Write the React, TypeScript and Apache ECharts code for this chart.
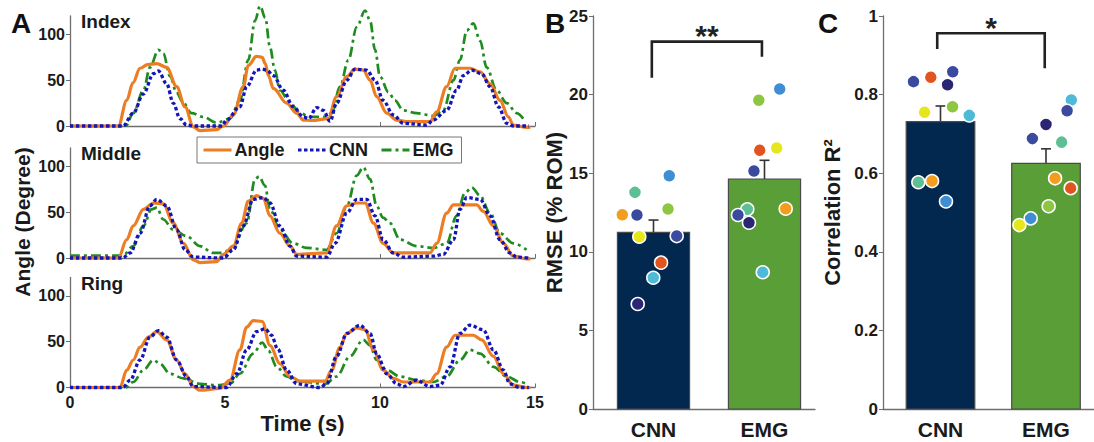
import React, { useEffect, useRef } from "react";
import * as echarts from "echarts";

const FONT = '"Liberation Sans", Arial, Helvetica, sans-serif';

// ---------- Panel A data: [time (s), angle (deg)] ----------
const indexAngle = [[0,0],[1.56,0],[1.83,28],[2.03,47],[2.26,63],[2.5,67],[2.8,68],[3.12,64],[3.44,43],[3.71,21],[3.98,-1],[4.19,-5],[4.73,-4],[4.95,0],[5.27,12],[5.59,43],[5.75,66],[6.02,76],[6.2,75],[6.3,68],[6.4,55],[6.56,41],[6.99,25],[7.31,14],[7.53,6.5],[7.8,6],[8.33,8],[8.6,32],[8.93,54],[9.19,62],[9.46,61],[9.68,50],[9.89,32],[10.22,14],[10.54,6.5],[10.86,4.7],[11.61,4.7],[11.83,15.5],[12.15,43],[12.42,63],[12.9,63],[13.23,59],[13.55,46],[13.87,28],[14.14,10],[14.3,1],[14.73,-1.5],[14.85,-1.5]];
const indexCnn = [[0,0],[1.71,0],[2.04,14],[2.37,35],[2.69,57],[2.85,60],[3.12,46],[3.33,25],[3.55,8],[3.76,1],[4.0,0],[4.9,0],[5.05,6.5],[5.48,21],[5.7,43],[6.02,61],[6.2,62],[6.34,61],[6.56,55],[6.88,39],[7.2,21],[7.53,10],[7.69,8],[7.96,20],[8.17,17],[8.39,5],[8.6,25],[8.93,50],[9.19,62],[9.57,61],[9.84,50],[10.1,28],[10.43,12],[10.75,3],[11.5,1],[11.72,6.5],[12.15,17],[12.47,39],[12.69,55],[12.96,61],[13.28,57],[13.55,43],[13.82,21],[14.09,3],[14.3,0],[14.8,0]];
const indexEmg = [[0,0],[1.8,0],[2.04,14],[2.37,39],[2.58,64],[2.85,83],[3.01,79],[3.23,54],[3.44,36],[3.66,25],[3.92,14],[4.3,10],[4.73,3.6],[5.16,8],[5.48,28],[5.75,72],[5.97,115],[6.13,131],[6.3,118],[6.45,86],[6.61,61],[6.77,39],[7.1,25],[7.42,14],[7.74,10],[8.23,10],[8.44,14],[8.71,43],[8.98,72],[9.25,108],[9.52,126],[9.68,115],[9.84,83],[10,54],[10.27,37],[10.48,28],[10.75,17],[11.18,14],[11.72,11],[12.04,17],[12.37,50],[12.58,72],[12.8,104],[13.01,112],[13.23,93],[13.44,64],[13.76,39],[14.09,25],[14.41,14],[14.62,8]];

const middleAngle = [[0,0],[1.56,0],[1.83,20],[2.04,35],[2.37,53],[2.69,60],[3.01,59],[3.33,38],[3.66,16],[3.98,-2],[4.19,-5],[4.73,-4],[4.95,4],[5.27,13],[5.54,38],[5.75,62],[6.02,68],[6.24,65],[6.45,46],[6.77,27],[7.1,13],[7.31,4],[8.28,5.5],[8.6,35],[8.93,57],[9.25,60],[9.52,60],[9.79,38],[10.1,16],[10.43,5.5],[11.61,5.5],[11.83,16],[12.15,49],[12.37,58],[13.12,58],[13.33,51],[13.66,35],[13.98,16],[14.3,2],[14.73,-1],[14.85,-1]];
const middleCnn = [[0,0],[1.7,0],[1.94,5.5],[2.26,27],[2.58,57],[2.8,64],[3.12,57],[3.44,31],[3.71,9],[3.98,1],[4.95,0],[5.27,9],[5.59,35],[5.91,64],[6.24,66],[6.45,60],[6.77,35],[7.1,13],[7.31,2],[8.28,1],[8.55,16],[8.93,49],[9.25,64],[9.57,64],[9.84,46],[10.1,20],[10.43,5.5],[10.75,1],[11.72,2],[12.04,4],[12.37,20],[12.58,53],[12.8,66],[13.23,64],[13.55,46],[13.87,20],[14.19,5.5],[14.41,1],[14.8,0]];
const middleEmg = [[0,2.5],[1.7,2.5],[2.04,13],[2.37,35],[2.63,53],[2.8,55],[3.01,42],[3.33,31],[3.76,24],[4.19,13],[4.62,5.5],[4.95,5.5],[5.27,13],[5.7,38],[5.97,86],[6.1,89],[6.29,79],[6.45,53],[6.77,31],[7.2,16],[7.63,11],[8.28,9],[8.6,27],[8.93,57],[9.25,90],[9.46,99],[9.68,86],[9.89,57],[10.1,44],[10.32,38],[10.65,20],[11.18,13],[11.72,11],[12.15,16],[12.47,46],[12.74,71],[12.96,77],[13.23,68],[13.55,49],[13.87,27],[14.3,16],[14.73,9]];

const ringAngle = [[0,0],[1.61,0],[1.83,19],[2.04,30],[2.26,44],[2.53,55],[2.8,61],[3.12,52],[3.44,30],[3.71,15],[3.98,1],[4.19,-3],[4.84,-1],[5.16,8],[5.48,41],[5.7,66],[5.91,73],[6.2,72],[6.45,46],[6.77,26],[7.1,12],[7.42,7],[8.23,7],[8.44,19],[8.71,44],[8.93,59],[9.25,65],[9.52,63],[9.79,41],[10.1,19],[10.43,10],[10.75,6],[11.61,6],[11.83,15],[12.15,44],[12.42,57],[13.01,57],[13.28,52],[13.66,34],[13.98,15],[14.3,2.5],[14.73,0],[14.85,0]];
const ringCnn = [[0,0],[1.7,0],[1.94,8],[2.26,30],[2.58,55],[2.85,62],[3.12,55],[3.44,30],[3.76,12],[3.98,1],[5.05,0],[5.38,15],[5.7,41],[6.02,61],[6.3,64],[6.5,57],[6.7,42],[6.99,19],[7.31,4],[8.06,0],[8.28,4],[8.6,34],[8.93,59],[9.35,68],[9.68,59],[9.89,37],[10.22,15],[10.54,4],[10.75,1],[11.18,8],[11.61,1],[11.94,2.5],[12.26,22.5],[12.58,59],[12.9,68],[13.33,63],[13.66,41],[13.98,19],[14.19,4],[14.5,0],[14.8,0]];
const ringEmg = [[0,0],[1.8,0],[2.04,6],[2.37,19],[2.69,30],[2.9,26],[3.23,15],[3.66,10],[4.19,4],[4.73,2.5],[5.16,4],[5.48,15],[5.91,37],[6.2,49],[6.4,40],[6.67,22.5],[6.99,12],[7.31,7],[8.23,4],[8.6,12],[9.03,34],[9.46,52],[9.68,46],[9.89,30],[10.22,19],[10.65,12],[11.18,8],[11.72,6],[12.15,12],[12.58,30],[12.9,41],[13.23,37],[13.66,22.5],[14.09,12],[14.52,6],[14.73,4]];

const fingerTitles = ["Index", "Middle", "Ring"];
const seriesNames = ["Angle", "CNN", "EMG"];
const timeTicks = [0, 5, 10, 15];
const angleTicks = [0, 50, 100];

// ---------- Panels B & C ----------
const groups = ["CNN", "EMG"];
const groupX = [1, 2];
const rmseMean = [11.24, 14.63];
const rmseSem = [0.78, 1.19];
const corrMean = [0.731, 0.625];
const corrSem = [0.04, 0.037];

const C_BLUE = "#3F8ED3", C_TEAL = "#5DBF93", C_YGREEN = "#8DC640", C_ORANGE = "#F29D1D",
  C_INDIGO = "#3A4A9F", C_YELLOW = "#E6E61C", C_RED = "#E1531F", C_LBLUE = "#4DBAD8", C_NAVY = "#2A2575";

const rmseCnnPts = [[1.142,14.84],[0.833,13.78],[1.131,12.72],[0.719,12.36],[0.851,12.34],[0.872,10.96],[1.209,11.0],[1.068,9.31],[0.998,8.35],[0.858,6.68]];
const rmseCnnColors = [C_BLUE, C_TEAL, C_YGREEN, C_ORANGE, C_INDIGO, C_YELLOW, C_INDIGO, C_RED, C_LBLUE, C_NAVY];
const rmseEmgPts = [[2.137,20.36],[1.948,19.64],[1.957,16.46],[2.11,16.6],[1.905,15.14],[1.845,12.7],[2.191,12.74],[1.761,12.34],[1.86,11.85],[1.984,8.7]];
const rmseEmgColors = [C_BLUE, C_YGREEN, C_RED, C_YELLOW, C_INDIGO, C_TEAL, C_ORANGE, C_INDIGO, C_NAVY, C_LBLUE];

const corrCnnPts = [[0.744,0.833],[0.908,0.844],[1.116,0.858],[1.067,0.825],[0.849,0.755],[1.114,0.769],[1.273,0.747],[0.79,0.577],[0.92,0.58],[1.052,0.528]];
const corrCnnColors = [C_INDIGO, C_RED, C_INDIGO, C_NAVY, C_YELLOW, C_YGREEN, C_LBLUE, C_TEAL, C_ORANGE, C_BLUE];
const corrEmgPts = [[2.24,0.786],[2.2,0.759],[2.0,0.724],[1.871,0.688],[2.148,0.679],[2.086,0.587],[2.234,0.562],[2.025,0.516],[1.855,0.485],[1.748,0.468]];
const corrEmgColors = [C_LBLUE, C_INDIGO, C_NAVY, C_INDIGO, C_TEAL, C_ORANGE, C_RED, C_YGREEN, C_BLUE, C_YELLOW];

// bracket: [xLeft, xRight, yLeftEnd, yRightEnd, yTop]
const rmseBracket = [0.985, 1.977, 21.07, 22.4, 23.37];
const rmseSig = "**";
const corrBracket = [0.969, 1.988, 0.916, 0.867, 0.956];
const corrSig = "*";

const barColors = ["#03284F", "#5A9E38"];
const lineColors = ["#ED7D22", "#1414B8", "#1E8C1E"];
const AXIS = "#6E6E6E";
const TXT = "#1A1A1A";

export default function App() {
  const ref = useRef<HTMLDivElement>(null);
  useEffect(() => {
    if (!ref.current) return;
    const chart = echarts.init(ref.current, null, { renderer: "svg" });

    const aTops = [16, 148, 277.5];
    const aData = [
      [indexAngle, indexCnn, indexEmg],
      [middleAngle, middleCnn, middleEmg],
      [ringAngle, ringCnn, ringEmg],
    ];
    const lineStyles: any[] = [
      { color: lineColors[0], width: 3.2, type: "solid" },
      { color: lineColors[1], width: 3.3, type: [3.5, 2.5] },
      { color: lineColors[2], width: 2.7, type: [10, 4, 3, 4] },
    ];

    const grids: any[] = aTops.map((t) => ({ left: 70, top: t, width: 465, height: 110 }));
    grids.push({ left: 593, top: 16, width: 222, height: 393 });
    grids.push({ left: 883, top: 16, width: 217, height: 393 });

    const labelStyle = { fontFamily: FONT, fontWeight: "bold", color: TXT };

    const xAxes: any[] = aTops.map((_, i) => ({
      gridIndex: i, type: "value", min: 0, max: 15,
      axisLine: { onZero: true, lineStyle: { color: AXIS, width: 1.3 } },
      axisTick: { inside: true, length: 4, customValues: timeTicks, lineStyle: { color: AXIS } },
      axisLabel: { show: i === 2, customValues: timeTicks, fontSize: 16, margin: 7, ...labelStyle },
      splitLine: { show: false },
      ...(i === 2 ? { name: "Time (s)", nameLocation: "middle", nameGap: 25, nameTextStyle: { fontSize: 22, ...labelStyle } } : {}),
    }));
    const groupAxis = (gi: number) => ({
      gridIndex: gi, type: "value", min: 0.455, max: 2.455,
      axisLine: { lineStyle: { color: AXIS, width: 1.3 } },
      axisTick: { show: false },
      axisLabel: { customValues: groupX, formatter: (v: number) => groups[Math.round(v) - 1] || "", fontSize: 21, margin: 10, ...labelStyle },
      splitLine: { show: false },
    });
    xAxes.push(groupAxis(3), groupAxis(4));

    const yAxes: any[] = aTops.map((_, i) => ({
      gridIndex: i, type: "value", min: 0, max: 120,
      axisLine: { show: true, lineStyle: { color: AXIS, width: 1.3 } },
      axisTick: { show: true, length: 4, customValues: angleTicks, lineStyle: { color: AXIS } },
      axisLabel: { customValues: angleTicks, fontSize: 16, margin: 5, ...labelStyle },
      splitLine: { show: false },
    }));
    yAxes.push({
      gridIndex: 3, type: "value", min: 0, max: 25, interval: 5,
      axisLine: { show: true, lineStyle: { color: AXIS, width: 1.3 } },
      axisTick: { show: true, length: 4, lineStyle: { color: AXIS } },
      axisLabel: { fontSize: 17, margin: 5, ...labelStyle },
      splitLine: { show: false },
      name: "RMSE (% ROM)", nameLocation: "middle", nameGap: 28,
      nameTextStyle: { fontSize: 22, ...labelStyle },
    });
    yAxes.push({
      gridIndex: 4, type: "value", min: 0, max: 1, interval: 0.2,
      axisLine: { show: true, lineStyle: { color: AXIS, width: 1.3 } },
      axisTick: { show: true, length: 4, lineStyle: { color: AXIS } },
      axisLabel: { fontSize: 17, margin: 5, ...labelStyle, formatter: (v: number) => (Math.abs(v) < 1e-9 ? "0" : Math.abs(v - 1) < 1e-9 ? "1" : v.toFixed(1)) },
      splitLine: { show: false },
      name: "Correlation R²", nameLocation: "middle", nameGap: 40,
      nameTextStyle: { fontSize: 22, ...labelStyle },
    });

    const series: any[] = [];
    aData.forEach((set, gi) => {
      set.forEach((d, si) => {
        series.push({
          type: "line", name: seriesNames[si], xAxisIndex: gi, yAxisIndex: gi,
          data: d, symbol: "none", smooth: 0.35, smoothMonotone: "x", clip: false,
          color: lineColors[si], itemStyle: { color: lineColors[si] },
          lineStyle: lineStyles[si], z: si === 0 ? 3 : si === 1 ? 4 : 2,
        });
      });
    });

    const barSeries = (gi: number, mean: number[], sem: number[]) => ({
      type: "custom", xAxisIndex: gi, yAxisIndex: gi, z: 2,
      data: groupX.map((x, i) => [x, mean[i], sem[i]]),
      renderItem: (params: any, api: any) => {
        const x = api.value(0), m = api.value(1), e = api.value(2);
        const p0 = api.coord([x - 0.325, m]);
        const p1 = api.coord([x + 0.325, 0]);
        const c = api.coord([x, m]);
        const t = api.coord([x, m + e]);
        return {
          type: "group",
          children: [
            { type: "line", shape: { x1: c[0], y1: c[1], x2: t[0], y2: t[1] }, style: { stroke: "#333", lineWidth: 1.6 } },
            { type: "line", shape: { x1: t[0] - 5, y1: t[1], x2: t[0] + 5, y2: t[1] }, style: { stroke: "#333", lineWidth: 1.6 } },
            { type: "rect", shape: { x: p0[0], y: p0[1], width: p1[0] - p0[0], height: p1[1] - p0[1] }, style: { fill: barColors[params.dataIndex], stroke: "#4a4a4a", lineWidth: 1.2 } },
          ],
        };
      },
    });
    const bracketSeries = (gi: number, b: number[], sig: string) => ({
      type: "custom", xAxisIndex: gi, yAxisIndex: gi, z: 5,
      data: [b],
      renderItem: (params: any, api: any) => {
        const pl = api.coord([api.value(0), api.value(2)]);
        const tl = api.coord([api.value(0), api.value(4)]);
        const tr = api.coord([api.value(1), api.value(4)]);
        const pr = api.coord([api.value(1), api.value(3)]);
        return {
          type: "group",
          children: [
            { type: "polyline", shape: { points: [pl, tl, tr, pr] }, style: { stroke: "#222", lineWidth: 2.6, fill: "none" } },
            { type: "text", x: (tl[0] + tr[0]) / 2, y: tl[1] - 21, style: { text: sig, fill: "#222", font: `bold 30px ${FONT}`, align: "center", verticalAlign: "top" } },
          ],
        };
      },
    });
    const scatterSeries = (gi: number, pts: number[][], colors: string[]) => ({
      type: "scatter", xAxisIndex: gi, yAxisIndex: gi, z: 4, symbolSize: 13,
      data: pts.map((p, i) => ({ value: p, itemStyle: { color: colors[i] } })),
      itemStyle: { borderColor: "#fff", borderWidth: 1.5, opacity: 1 },
    });

    series.push(barSeries(3, rmseMean, rmseSem));
    series.push(scatterSeries(3, rmseCnnPts, rmseCnnColors));
    series.push(scatterSeries(3, rmseEmgPts, rmseEmgColors));
    series.push(bracketSeries(3, rmseBracket, rmseSig));
    series.push(barSeries(4, corrMean, corrSem));
    series.push(scatterSeries(4, corrCnnPts, corrCnnColors));
    series.push(scatterSeries(4, corrEmgPts, corrEmgColors));
    series.push(bracketSeries(4, corrBracket, corrSig));

    const titles: any[] = fingerTitles.map((t, i) => ({
      text: t, left: 81, top: aTops[i] - 4, padding: 0,
      textStyle: { fontSize: 19, fontFamily: FONT, fontWeight: "bold", color: TXT },
    }));
    [["A", 11], ["B", 545], ["C", 818]].forEach(([t, x]) =>
      titles.push({ text: t, left: x, top: 9, padding: 0, textStyle: { fontSize: 28, fontFamily: FONT, fontWeight: "bold", color: "#111" } })
    );

    chart.setOption({
      animation: false,
      backgroundColor: "#fff",
      title: titles,
      grid: grids,
      xAxis: xAxes,
      yAxis: yAxes,
      legend: {
        data: seriesNames, left: 197, top: 137, itemWidth: 28, itemHeight: 12, itemGap: 12,
        padding: [4, 8, 4, 5], borderColor: "#777", borderWidth: 1, backgroundColor: "#fff",
        itemStyle: { opacity: 0 },
        lineStyle: { width: 3 },
        textStyle: { fontSize: 18, fontFamily: FONT, fontWeight: "bold", color: TXT, padding: [0, 0, 0, -2] },
        z: 10,
      },
      graphic: [
        { type: "text", x: 22, y: 222, rotation: Math.PI / 2, style: { text: "Angle (Degree)", font: `bold 21px ${FONT}`, fill: TXT, align: "center", verticalAlign: "middle" } },
      ],
      series,
    });
    return () => chart.dispose();
  }, []);
  return <div ref={ref} style={{ position: "absolute", left: 0, top: 0, width: 1094, height: 442 }} />;
}
